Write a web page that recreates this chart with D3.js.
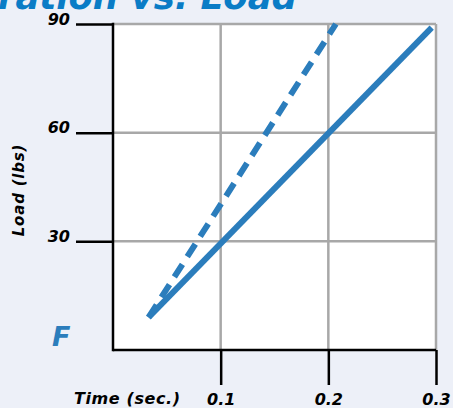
<!DOCTYPE html>
<html><head><meta charset="utf-8">
<script src="https://cdn.jsdelivr.net/npm/d3@7"></script>
<style>
html,body{margin:0;padding:0;background:#edf0f8;}
svg{display:block;}
text{font-family:"DejaVu Sans",sans-serif;font-weight:bold;font-style:italic;}
</style></head>
<body>
<script>
const titleText = "Duration vs. Load";
const xTicks = [0.1, 0.2, 0.3];
const xTickLabels = ["0.1", "0.2", "0.3"];
const yTicks = [30, 60, 90];
const yTickLabels = ["30", "60", "90"];
const solidTime = [0.033, 0.296];
const solidLoad = [9, 89];
const dashedTime = [0.033, 0.207];
const dashedLoad = [9, 90];
const xTitle = "Time (sec.)";
const yTitle = "Load (lbs)";
const curveLabel = "F";

const W = 453, H = 408;
const blue = "#2b7dbc";
const svg = d3.select("body").append("svg").attr("width", W).attr("height", H);
svg.append("rect").attr("width", W).attr("height", H).attr("fill", "#edf0f8");

const x = d3.scaleLinear().domain([0, 0.3]).range([113, 436]);
const y = d3.scaleLinear().domain([0, 90]).range([350, 24]);

// title (clipped at top like the reference)
svg.append("text").attr("x", 297).attr("y", 9).attr("text-anchor", "end")
  .attr("font-size", 35.5).attr("fill", "#0a7cc6").text(titleText);

// plot area
svg.append("rect").attr("x", x(0)).attr("y", y(90)).attr("width", x(0.3) - x(0)).attr("height", y(0) - y(90)).attr("fill", "#fff");

// grid
const g = svg.append("g");
g.selectAll("line.v").data(xTicks).join("line")
  .attr("x1", d => x(d)).attr("x2", d => x(d)).attr("y1", y(90)).attr("y2", y(0))
  .attr("stroke", "#a8a8a8").attr("stroke-width", 2.5);
g.selectAll("line.h").data(yTicks).join("line")
  .attr("x1", x(0)).attr("x2", x(0.3)).attr("y1", d => y(d)).attr("y2", d => y(d))
  .attr("stroke", "#a8a8a8").attr("stroke-width", 2.5);

// axes
const yAxis = d3.axisLeft(y).tickValues(yTicks).tickSize(37)
  .tickFormat((d, i) => yTickLabels[i]);
const ya = svg.append("g").attr("transform", `translate(${x(0)},0)`).call(yAxis);
ya.select(".domain").remove();
ya.selectAll(".tick line").attr("stroke", "#000").attr("stroke-width", 2.5);
ya.selectAll(".tick text").attr("font-size", 16).attr("fill", "#000")
  .attr("font-family", "DejaVu Sans").attr("dy", "0").attr("y", 0).attr("x", -43);

const xAxis = d3.axisBottom(x).tickValues(xTicks).tickSize(35)
  .tickFormat((d, i) => xTickLabels[i]);
const xa = svg.append("g").attr("transform", `translate(0,${y(0)})`).call(xAxis);
xa.select(".domain").remove();
xa.selectAll(".tick line").attr("stroke", "#000").attr("stroke-width", 2.5);
xa.selectAll(".tick text").attr("font-size", 16).attr("fill", "#000")
  .attr("font-family", "DejaVu Sans").attr("dy", "0").attr("y", 55);

svg.append("line").attr("x1", x(0)).attr("x2", x(0)).attr("y1", y(90) - 1.25).attr("y2", y(0) + 1.25)
  .attr("stroke", "#000").attr("stroke-width", 2.5);
svg.append("line").attr("x1", x(0)).attr("x2", x(0.3)).attr("y1", y(0)).attr("y2", y(0))
  .attr("stroke", "#000").attr("stroke-width", 2.5);

// lines
const line = d3.line().x(d => x(d[0])).y(d => y(d[1]));
svg.append("path").datum(solidTime.map((t, i) => [t, solidLoad[i]]))
  .attr("d", line).attr("fill", "none").attr("stroke", blue).attr("stroke-width", 6);
svg.append("path").datum(dashedTime.map((t, i) => [t, dashedLoad[i]]))
  .attr("d", line).attr("fill", "none").attr("stroke", blue).attr("stroke-width", 6)
  .attr("stroke-dasharray", "15,9");

// labels
svg.append("text").attr("x", 74).attr("y", 404).attr("font-size", 16).attr("letter-spacing", 0.6)
  .attr("fill", "#000").text(xTitle);
svg.append("text").attr("transform", "translate(24,190) rotate(-90)").attr("text-anchor", "middle")
  .attr("font-size", 15).attr("letter-spacing", 0.8).attr("fill", "#000").text(yTitle);
svg.append("text").attr("x", 52).attr("y", 346).attr("font-size", 27).attr("fill", blue).text(curveLabel);
</script>
</body></html>
